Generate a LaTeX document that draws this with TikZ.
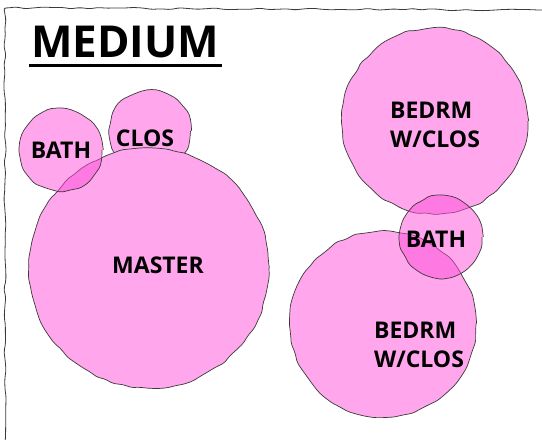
\documentclass[tikz,border=0pt]{standalone}
\usepackage{fontspec}
\setmainfont{Open Sans}
\usetikzlibrary{positioning,decorations.pathmorphing}
\definecolor{rosa}{RGB}{255,77,217}
\definecolor{rosaclaro}{RGB}{255,166,236}
\definecolor{borde}{HTML}{3A3A3A}

\tikzset{
  sketch/.style={draw=borde, line width=0.7pt, decorate,
    decoration={random steps, segment length=9pt, amplitude=1.1pt}, rounded corners=2pt},
  room/.style={sketch, fill=rosa, fill opacity=0.5},
  roomsolid/.style={sketch, fill=rosaclaro},
  roomlabel/.style={font=\fontsize{23}{29}\selectfont\bfseries, align=left, inner sep=0pt}
}

\begin{document}
\begin{tikzpicture}[x=1pt, y=-1pt]
    \pgfmathsetseed{11}
    \useasboundingbox (0,0) rectangle (542,440);
    % marco
    \coordinate (mr) at (548,10);
    \coordinate (mc) at (5,8);
    \coordinate (mb) at (5,446);
    \draw[sketch, line width=0.8pt] (mr) -- (mc) -- (mb);
    % titulo
    \node[font=\fontsize{44}{44}\selectfont\bfseries, inner sep=0pt, anchor=base west] (title) at (31,57) {MEDIUM};
    \draw[line width=3pt] ([xshift=-2pt, yshift=-8pt]title.base west) -- ([xshift=3pt, yshift=-8pt]title.base east);
    % suite principal
    \coordinate (clos) at (150,131);
    \coordinate (master) at (149,268);
    \coordinate (bathA) at (61,150);
    \filldraw[roomsolid] (clos) circle[radius=40.5];
    \filldraw[roomsolid] (master) circle[radius=120];
    \filldraw[room] (bathA) circle[radius=41];
    \node[roomlabel] (lbathA) at (61,150) {BATH};
    \node[roomlabel] (lclos) at (145,138) {CLOS};
    \node[roomlabel] (lmaster) at (158,265) {MASTER};
    % dormitorios y bano compartido
    \coordinate (bedA) at (435,121);
    \coordinate (bedB) at (383,324);
    \coordinate (bathB) at (441,237);
    \filldraw[room] (bedA) circle[radius=93];
    \filldraw[room] (bedB) circle[radius=93];
    \filldraw[room] (bathB) circle[radius=41];
    \node[roomlabel] (lbedA) at (435,125) {BEDRM\\W/CLOS};
    \node[roomlabel] (lbedB) at (419,345) {BEDRM\\W/CLOS};
    \node[roomlabel] (lbathB) at (436,239) {BATH};
\end{tikzpicture}
\end{document}
